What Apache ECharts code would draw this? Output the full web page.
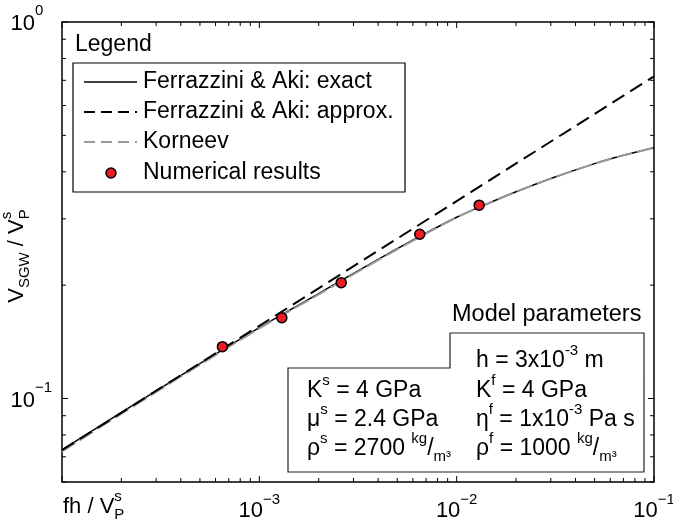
<!DOCTYPE html>
<html><head><meta charset="utf-8">
<script src="https://cdn.jsdelivr.net/npm/echarts@6/dist/echarts.min.js"></script>
<style>html,body{margin:0;padding:0;background:#fff}#c{width:673px;height:526px}</style>
</head><body><div id="c"></div>
<script>
// ---------------- data ----------------
const freqExact = [1e-4, 2e-4, 5e-4, 1e-3, 2e-3, 5e-3, 1e-2, 1.5e-2, 2e-2, 3e-2, 5e-2, 7e-2, 1e-1];
const vExact    = [0.0730, 0.0918, 0.1237, 0.1543, 0.190, 0.250, 0.303, 0.3325, 0.354, 0.384, 0.4205, 0.4425, 0.4635];
const vKorneev  = [0.0723, 0.0911, 0.1229, 0.1535, 0.189, 0.249, 0.3025, 0.3322, 0.3538, 0.3838, 0.4203, 0.4424, 0.4635];
const freqApprox = [1e-4, 1e-3, 1e-2, 1e-1];
const vApprox    = [0.0729, 0.156, 0.3345, 0.717];
const freqNum = [6.5e-4, 1.3e-3, 2.6e-3, 6.5e-3, 1.3e-2];
const vNum    = [0.1373, 0.1639, 0.2031, 0.2730, 0.3262];

const xTickValues = [1e-3, 1e-2, 1e-1];
const xTickExps   = ['\u22123', '\u22122', '\u22121'];
const yTickValues = [1e-1, 1];
const yTickExps   = ['\u22121', '0'];
const xMajorTicks = [1e-4, 1e-3, 1e-2, 1e-1];
const xMinorTicks = [2e-4,3e-4,4e-4,5e-4,6e-4,7e-4,8e-4,9e-4,2e-3,3e-3,4e-3,5e-3,6e-3,7e-3,8e-3,9e-3,2e-2,3e-2,4e-2,5e-2,6e-2,7e-2,8e-2,9e-2];
const yMajorTicks = [1e-1, 1];
const yMinorTicks = [0.06,0.07,0.08,0.09,0.2,0.3,0.4,0.5,0.6,0.7,0.8,0.9];

const legendNames = ['Ferrazzini & Aki: exact', 'Ferrazzini & Aki: approx.', 'Korneev', 'Numerical results'];

const X_MIN = 1e-4, X_MAX = 1e-1, Y_MIN = 0.06, Y_MAX = 1;

// ---------------- helpers ----------------
const FONT = '"Liberation Sans", Arial, Helvetica, sans-serif';
const ctx = document.createElement('canvas').getContext('2d');
function tw(t, s) { ctx.font = s + 'px ' + FONT; return ctx.measureText(t).width; }
function runWidth(pieces) { let w = 0; pieces.forEach(p => { if (!p[3]) w += tw(p[0], p[1]); }); return w; }
function run(x, y, pieces) {
  const out = []; let cx = x;
  pieces.forEach(p => {
    out.push({ type: 'text', x: cx, y: y + (p[2] || 0), silent: true,
      style: { text: p[0], font: p[1] + 'px ' + FONT, fill: '#000', textFill: '#000', textAlign: 'left', verticalAlign: 'middle', textVerticalAlign: 'middle' } });
    if (!p[3]) cx += tw(p[0], p[1]);
  });
  return out;
}

function tickSeries(axis, values, len) {
  return {
    type: 'custom', coordinateSystem: 'cartesian2d', clip: false, silent: true, z: 10,
    data: values.map(v => axis === 'x' ? [v, 0.1] : [1e-3, v]),
    encode: { x: 0, y: 1 },
    renderItem(params, api) {
      let a, b, lines;
      if (axis === 'x') {
        const v = api.value(0);
        a = api.coord([v, Y_MIN]); b = api.coord([v, Y_MAX]);
        lines = [[a[0], a[1], a[0], a[1] - len], [b[0], b[1], b[0], b[1] + len]];
      } else {
        const v = api.value(1);
        a = api.coord([X_MIN, v]); b = api.coord([X_MAX, v]);
        lines = [[a[0], a[1], a[0] + len, a[1]], [b[0], b[1], b[0] - len, b[1]]];
      }
      return { type: 'group', children: lines.map(l => ({ type: 'line', shape: { x1: l[0], y1: l[1], x2: l[2], y2: l[3] }, style: { stroke: '#000', lineWidth: 1 } })) };
    }
  };
}

const chart = echarts.init(document.getElementById('c'), null, { renderer: 'canvas' });

// legend + annotations (graphic)
const G = [];
G.push(...run(75, 45, [['Legend', 23]]));
G.push({ type: 'rect', shape: { x: 73, y: 63, width: 332, height: 129 }, style: { fill: '#fff', stroke: '#000', lineWidth: 1.2 } });
const rowY = [82, 112, 142, 173];
G.push({ type: 'line', shape: { x1: 84, y1: rowY[0], x2: 137, y2: rowY[0] }, style: { stroke: '#000', lineWidth: 1.5 } });
G.push({ type: 'line', shape: { x1: 84, y1: rowY[1], x2: 137, y2: rowY[1] }, style: { stroke: '#000', lineWidth: 2, lineDash: [11, 6] } });
G.push({ type: 'line', shape: { x1: 84, y1: rowY[2], x2: 137, y2: rowY[2] }, style: { stroke: '#9a9a9a', lineWidth: 2, lineDash: [11, 6] } });
G.push({ type: 'circle', shape: { cx: 111, cy: rowY[3], r: 5 }, style: { fill: '#ed1c24', stroke: '#000', lineWidth: 1.5 } });
legendNames.forEach((n, i) => G.push(...run(143, rowY[i], [[n, 23]])));

// model parameters
G.push(...run(452, 315, [['Model parameters', 23.5]]));
G.push({ type: 'polygon', shape: { points: [[288, 368], [450, 368], [450, 333], [644, 333], [644, 472], [288, 472]] }, style: { fill: '#fff', stroke: '#222', lineWidth: 1.2 } });
const L = 307, R = 476, r1 = 361, r2 = 391, r3 = 420, r4 = 449;
const S = 15, N = 23, UP = -10, DN = 8;
G.push(...run(R, r1, [['h = 3x10', N], ['-3', S, UP], [' m', N]]));
G.push(...run(L, r2, [['K', N], ['s', S, UP], [' = 4 GPa', N]]));
G.push(...run(R, r2, [['K', N], ['f', S, UP], [' = 4 GPa', N]]));
G.push(...run(L, r3, [['\u03bc', N], ['s', S, UP], [' = 2.4 GPa', N]]));
G.push(...run(R, r3, [['\u03b7', N], ['f', S, UP], [' = 1x10', N], ['-3', S, UP], [' Pa s', N]]));
G.push(...run(L, r4, [['\u03c1', N], ['s', S, UP], [' = 2700 ', N], ['kg', S, UP], ['/', N], ['m\u00b3', S, DN]]));
G.push(...run(R, r4, [['\u03c1', N], ['f', S, UP], [' = 1000 ', N], ['kg', S, UP], ['/', N], ['m\u00b3', S, DN]]));

// axis titles
G.push(...run(63, 507, [['fh / V', 22], ['s', S, -10, true], ['P', S, 8]]));
const yt = [['V', 22], ['SGW', S, 8], [' / V', 22], ['s', S, -10, true], ['P', S, 8]];
const ytW = runWidth(yt);
G.push({ type: 'group', x: 17, y: 256 + ytW / 2, rotation: Math.PI / 2, children: run(0, 0, yt) });

const TK = 22;
const option = {
  animation: false,
  backgroundColor: '#fff',
  grid: { left: 62, top: 22, right: 19, bottom: 44, show: true, borderColor: '#000', borderWidth: 1.5, backgroundColor: 'transparent' },
  xAxis: { type: 'log', logBase: 10, min: X_MIN, max: X_MAX, axisLine: { show: false }, axisTick: { show: false }, axisLabel: { show: false }, splitLine: { show: false } },
  yAxis: { type: 'log', logBase: 10, min: Y_MIN, max: Y_MAX, axisLine: { show: false }, axisTick: { show: false }, axisLabel: { show: false }, splitLine: { show: false } },
  graphic: { elements: G.map(e => Object.assign({ z: 50 }, e)) },
  series: [
    { name: legendNames[0], type: 'line', data: freqExact.map((x, i) => [x, vExact[i]]), showSymbol: false, smooth: 0.3, z: 2,
      lineStyle: { color: '#000', width: 1.5 } },
    { name: legendNames[2], type: 'line', data: freqExact.map((x, i) => [x, vKorneev[i]]), showSymbol: false, smooth: 0.3, z: 3,
      lineStyle: { color: '#9a9a9a', width: 2, type: [16, 5] } },
    { name: legendNames[1], type: 'line', data: freqApprox.map((x, i) => [x, vApprox[i]]), showSymbol: false, z: 4,
      lineStyle: { color: '#000', width: 2, type: [14, 7] } },
    { name: legendNames[3], type: 'scatter', data: freqNum.map((x, i) => [x, vNum[i]]), symbol: 'circle', symbolSize: 10, z: 5,
      itemStyle: { color: '#ed1c24', borderColor: '#000', borderWidth: 1.5, opacity: 1 } },
    tickSeries('x', xMajorTicks, 6),
    tickSeries('x', xMinorTicks, 4),
    tickSeries('y', yMajorTicks, 6),
    tickSeries('y', yMinorTicks, 4),
    { type: 'custom', coordinateSystem: 'cartesian2d', clip: false, silent: true, z: 10,
      data: xTickValues.map(v => [v, 0.1]), encode: { x: 0, y: 1 },
      renderItem(params, api) {
        const i = params.dataIndex; const p = api.coord([xTickValues[i], Y_MIN]);
        const pcs = [['10', TK], [xTickExps[i], S, -11]];
        const w = runWidth(pcs);
        return { type: 'group', children: run(p[0] - w / 2, p[1] + 29, pcs) };
      } },
    { type: 'custom', coordinateSystem: 'cartesian2d', clip: false, silent: true, z: 10,
      data: yTickValues.map(v => [1e-3, v]), encode: { x: 0, y: 1 },
      renderItem(params, api) {
        const i = params.dataIndex; const p = api.coord([X_MIN, yTickValues[i]]);
        const w10 = tw('10', TK);
        return { type: 'group', children: run(p[0] - 27 - w10, p[1] + 2, [['10', TK], [yTickExps[i], S, -13]]) };
      } }
  ]
};
chart.setOption(option);
</script></body></html>
